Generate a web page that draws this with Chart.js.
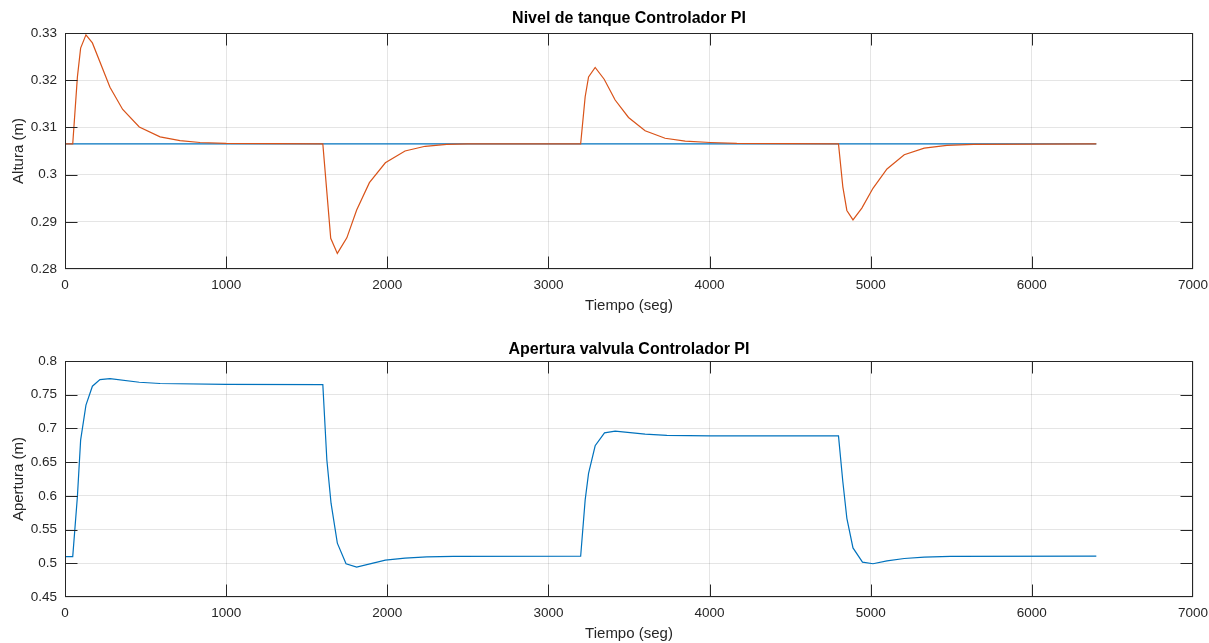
<!DOCTYPE html>
<html>
<head>
<meta charset="utf-8">
<script src="https://cdn.jsdelivr.net/npm/chart.js@4"></script>
<style>
  html, body { margin: 0; padding: 0; background: #fff; }
  #wrap { position: relative; width: 1209px; height: 643px; }
  canvas { position: absolute; left: 0; }
  #nivelChart { top: 0; }
  #aperturaChart { top: 322px; }
</style>
</head>
<body>
<div id="wrap">
  <canvas id="nivelChart" width="1209" height="322"></canvas>
  <canvas id="aperturaChart" width="1209" height="321"></canvas>
</div>
<script>
// tiempo (seg) y nivel del tanque (m)
const tiempoNivel = [0, 48, 77, 97, 130, 170, 279, 358, 461, 590, 714, 838, 1000, 1600,
  1649, 1690, 1749, 1810, 1889, 1988, 2110, 2235, 2369, 2500, 3200,
  3228, 3249, 3290, 3346, 3414, 3497, 3600, 3724, 3849, 4004, 4169, 4800,
  4827, 4852, 4890, 4945, 5014, 5101, 5208, 5332, 5473, 5638, 6400];
const nivel = [0.3065, 0.3065, 0.3207, 0.3268, 0.3296, 0.3279, 0.3185, 0.3138, 0.3101, 0.3080, 0.3072, 0.3068, 0.3066, 0.3065,
  0.2865, 0.2833, 0.2866, 0.2925, 0.2983, 0.3025, 0.3050, 0.3060, 0.3064, 0.3065, 0.3065,
  0.3165, 0.3207, 0.3227, 0.3202, 0.3158, 0.3121, 0.3093, 0.3077, 0.3071, 0.3068, 0.3066, 0.3065,
  0.2974, 0.2924, 0.2904, 0.2929, 0.2971, 0.3012, 0.3042, 0.3056, 0.3062, 0.3064, 0.3065];

// referencia (setpoint)
const tiempoRef = [0, 6400];
const referencia = [0.3065, 0.3065];

// apertura de la valvula
const tiempoValvula = [0, 48, 77, 97, 130, 170, 217, 279, 461, 590, 1000, 1600,
  1625, 1651, 1690, 1744, 1810, 1988, 2110, 2245, 2410, 3200,
  3228, 3249, 3290, 3348, 3414, 3600, 3735, 4004, 4800,
  4827, 4852, 4890, 4949, 5014, 5101, 5208, 5332, 5494, 6400];
const apertura = [0.510, 0.510, 0.599, 0.6827, 0.7345, 0.7626, 0.7724, 0.7739, 0.7685, 0.7666, 0.7652, 0.765,
  0.6531, 0.5891, 0.5299, 0.4993, 0.4944, 0.5047, 0.5077, 0.5096, 0.5103, 0.5105,
  0.594, 0.6334, 0.6743, 0.6935, 0.696, 0.6916, 0.6896, 0.689, 0.689,
  0.621, 0.5667, 0.5228, 0.5017, 0.4993, 0.5037, 0.5071, 0.5092, 0.5102, 0.5107];

// ticks
const ticksTiempo = [0, 1000, 2000, 3000, 4000, 5000, 6000, 7000];
const labelsTiempo = ['0', '1000', '2000', '3000', '4000', '5000', '6000', '7000'];
const ticksAltura = [0.28, 0.29, 0.30, 0.31, 0.32, 0.33];
const labelsAltura = ['0.28', '0.29', '0.3', '0.31', '0.32', '0.33'];
const ticksApertura = [0.45, 0.50, 0.55, 0.60, 0.65, 0.70, 0.75, 0.80];
const labelsApertura = ['0.45', '0.5', '0.55', '0.6', '0.65', '0.7', '0.75', '0.8'];

const FONT = "'Liberation Sans', Arial, sans-serif";
const AXIS_COLOR = '#262626';

const toPoints = (xs, ys) => xs.map((x, i) => ({ x: x, y: ys[i] }));

// matlab style box with ticks pointing inside, plus the title centred over the axes
const boxPlugin = {
    id: 'matlabBox',
    afterDraw(chart, args, opts) {
        const { ctx, chartArea: a, scales } = chart;
        const L = Math.round(a.left) + 0.5, R = Math.round(a.right) - 0.5;
        const T = Math.round(a.top) + 0.5, B = Math.round(a.bottom) - 0.5;
        ctx.save();
        ctx.strokeStyle = AXIS_COLOR;
        ctx.lineWidth = 1;
        ctx.strokeRect(L, T, R - L, B - T);
        ctx.beginPath();
        scales.x.ticks.forEach(t => {
            const px = Math.round(scales.x.getPixelForValue(t.value)) + 0.5;
            if (px <= L || px >= R) return;
            ctx.moveTo(px, B); ctx.lineTo(px, B - 12);
            ctx.moveTo(px, T); ctx.lineTo(px, T + 12);
        });
        scales.y.ticks.forEach(t => {
            const py = Math.round(scales.y.getPixelForValue(t.value)) + 0.5;
            if (py <= T || py >= B) return;
            ctx.moveTo(L, py); ctx.lineTo(L + 12, py);
            ctx.moveTo(R, py); ctx.lineTo(R - 12, py);
        });
        ctx.stroke();

        ctx.fillStyle = '#000';
        ctx.font = 'bold 16px ' + FONT;
        ctx.textAlign = 'center';
        ctx.textBaseline = 'middle';
        ctx.fillText(opts.text, (a.left + a.right) / 2, opts.y);
        ctx.restore();
    }
};

function makeChart(id, opts) {
    return new Chart(document.getElementById(id), {
        type: 'line',
        data: { datasets: opts.datasets },
        options: {
            responsive: false,
            animation: false,
            layout: { padding: { left: 0, right: 16, top: opts.top, bottom: 0 } },
            plugins: {
                legend: { display: false },
                tooltip: { enabled: false },
                title: { display: false },
                matlabBox: { text: opts.title, y: opts.titleY }
            },
            elements: { point: { radius: 0 }, line: { tension: 0 } },
            scales: {
                x: {
                    type: 'linear',
                    min: 0,
                    max: 7000,
                    afterBuildTicks: (scale) => { scale.ticks = ticksTiempo.map(v => ({ value: v })); },
                    afterFit: (scale) => {
                        scale.height = opts.xHeight;
                        scale.paddingLeft = 0;
                        scale.paddingRight = 0;
                    },
                    ticks: {
                        color: AXIS_COLOR,
                        padding: 8,
                        maxRotation: 0,
                        font: { family: FONT, size: 13.5 },
                        callback: (value, index) => labelsTiempo[index]
                    },
                    grid: { color: 'rgba(0, 0, 0, 0.1)', drawTicks: false },
                    border: { display: false },
                    title: {
                        display: true,
                        text: 'Tiempo (seg)',
                        color: AXIS_COLOR,
                        font: { family: FONT, size: 15 },
                        padding: { top: 0, bottom: opts.xTitleBottom }
                    }
                },
                y: {
                    min: opts.yMin,
                    max: opts.yMax,
                    afterBuildTicks: (scale) => { scale.ticks = opts.yTicks.map(v => ({ value: v })); },
                    afterFit: (scale) => {
                        scale.width = 65;
                        scale.paddingTop = 0;
                        scale.paddingBottom = 0;
                    },
                    ticks: {
                        color: AXIS_COLOR,
                        padding: 8,
                        font: { family: FONT, size: 13.5 },
                        callback: (value, index) => opts.yLabels[index]
                    },
                    grid: { color: 'rgba(0, 0, 0, 0.1)', drawTicks: false },
                    border: { display: false },
                    title: {
                        display: true,
                        text: opts.yTitle,
                        color: AXIS_COLOR,
                        font: { family: FONT, size: 15 },
                        padding: { top: 10, bottom: 0 }
                    }
                }
            }
        },
        plugins: [boxPlugin]
    });
}

makeChart('nivelChart', {
    title: 'Nivel de tanque Controlador PI',
    top: 33,
    titleY: 19,
    xHeight: 53,
    xTitleBottom: 7,
    yMin: 0.28, yMax: 0.33,
    yTicks: ticksAltura, yLabels: labelsAltura,
    yTitle: 'Altura (m)',
    datasets: [
        { label: 'Nivel', data: toPoints(tiempoNivel, nivel), borderColor: '#D95319', borderWidth: 1.2 },
        { label: 'Referencia', data: toPoints(tiempoRef, referencia), borderColor: '#0072BD', borderWidth: 1.2 }
    ]
});

makeChart('aperturaChart', {
    title: 'Apertura valvula Controlador PI',
    top: 39,
    titleY: 28,
    xHeight: 46,
    xTitleBottom: 0,
    yMin: 0.45, yMax: 0.8,
    yTicks: ticksApertura, yLabels: labelsApertura,
    yTitle: 'Apertura (m)',
    datasets: [
        { label: 'Apertura', data: toPoints(tiempoValvula, apertura), borderColor: '#0072BD', borderWidth: 1.2 }
    ]
});
</script>
</body>
</html>
